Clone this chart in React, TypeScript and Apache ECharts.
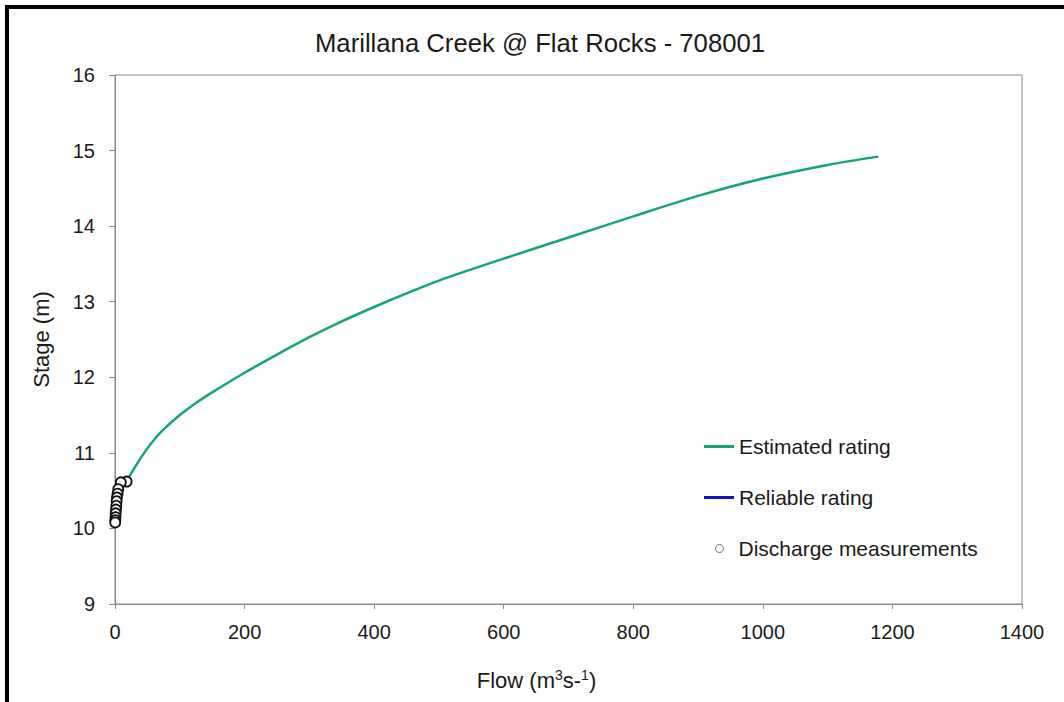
import React, { useEffect, useRef } from "react";
import * as echarts from "echarts";

const titleText = "Marillana Creek @ Flat Rocks - 708001";
const xTicks = [0, 200, 400, 600, 800, 1000, 1200, 1400];
const yTicks = [9, 10, 11, 12, 13, 14, 15, 16];

const ratingFlow = [12, 20, 30, 45, 60, 75, 100, 125, 150, 200, 250, 300, 350, 400, 450, 500, 600, 700, 800, 900, 1000, 1100, 1178];
const ratingStage = [10.57, 10.66, 10.8, 11.0, 11.17, 11.31, 11.5, 11.66, 11.8, 12.06, 12.3, 12.53, 12.74, 12.93, 13.11, 13.28, 13.57, 13.85, 14.13, 14.4, 14.63, 14.81, 14.92];

const reliableFlow: number[] = [];
const reliableStage: number[] = [];

const measFlow = [18, 9, 5, 4, 3, 2.5, 2, 1.5, 1, 0.8, 0.5, 0.3];
const measStage = [10.62, 10.61, 10.52, 10.46, 10.41, 10.36, 10.3, 10.25, 10.2, 10.15, 10.11, 10.08];

const FONT = "Liberation Sans";

export default function App() {
  const ref = useRef<HTMLDivElement>(null);
  useEffect(() => {
    if (!ref.current) return;
    const chart = echarts.init(ref.current, null, { renderer: "svg" });
    const zip = (a: number[], b: number[]) => a.map((v, i) => [v, b[i]]);
    const legendText = { fontFamily: FONT, fontSize: 21, color: "#1a1a1a", lineHeight: 20 };
    chart.setOption({
      animation: false,
      backgroundColor: "#ffffff",
      textStyle: { fontFamily: FONT, color: "#1a1a1a" },
      title: {
        text: titleText,
        left: 535,
        top: 25,
        textAlign: "center",
        textStyle: { fontFamily: FONT, fontSize: 25.7, fontWeight: "normal", color: "#1a1a1a" },
      },
      grid: {
        left: 115,
        right: 42,
        top: 75,
        bottom: 98,
        show: true,
        borderColor: "#8a8a8a",
        borderWidth: 1,
        backgroundColor: "transparent",
      },
      xAxis: {
        type: "value",
        min: xTicks[0],
        max: xTicks[xTicks.length - 1],
        interval: 200,
        name: "Flow (m{sup|3}s-{sup|1})",
        nameLocation: "middle",
        nameGap: 64,
        nameTextStyle: {
          fontFamily: FONT,
          fontSize: 22,
          color: "#1a1a1a",
          padding: [0, 64, 0, 0],
          rich: {
            sup: { fontFamily: FONT, fontSize: 14, color: "#1a1a1a", padding: [0, 0, 10, 0] },
          },
        },
        axisLine: { show: true, lineStyle: { color: "#8a8a8a", width: 1 } },
        axisTick: { show: true, length: 5, lineStyle: { color: "#8a8a8a" } },
        axisLabel: {
          margin: 18,
          fontFamily: FONT,
          fontSize: 20,
          color: "#1a1a1a",
          formatter: (v: number) => String(v),
        },
        splitLine: { show: false },
      },
      yAxis: {
        type: "value",
        min: yTicks[0],
        max: yTicks[yTicks.length - 1],
        interval: 1,
        name: "Stage (m)",
        nameLocation: "middle",
        nameGap: 63,
        nameRotate: 90,
        nameTextStyle: { fontFamily: FONT, fontSize: 22, color: "#1a1a1a" },
        axisLine: { show: true, lineStyle: { color: "#8a8a8a", width: 1 } },
        axisTick: { show: true, length: 6, lineStyle: { color: "#8a8a8a" } },
        axisLabel: {
          margin: 20,
          fontFamily: FONT,
          fontSize: 20,
          color: "#1a1a1a",
          formatter: (v: number) => String(v),
        },
        splitLine: { show: false },
      },
      legend: [
        {
          orient: "vertical",
          left: 704,
          top: 436,
          padding: 0,
          itemWidth: 30,
          itemHeight: 3,
          itemGap: 30,
          icon: "rect",
          textStyle: legendText,
          data: ["Estimated rating", "Reliable rating"],
        },
        {
          orient: "vertical",
          left: 715,
          top: 538,
          padding: 0,
          itemWidth: 28,
          itemHeight: 8,
          icon: "circle",
          textStyle: legendText,
          data: [
            {
              name: "Discharge measurements",
              itemStyle: { color: "#ffffff", borderColor: "#666666", borderWidth: 1 },
            },
          ],
        },
      ],
      series: [
        {
          name: "Estimated rating",
          type: "line",
          data: zip(ratingFlow, ratingStage),
          smooth: 0.3,
          symbol: "none",
          lineStyle: { color: "#14a76c", width: 2.5 },
          itemStyle: { color: "#14a76c" },
          z: 2,
        },
        {
          name: "Reliable rating",
          type: "line",
          data: zip(reliableFlow, reliableStage),
          symbol: "none",
          lineStyle: { color: "#1515c8", width: 2.5 },
          itemStyle: { color: "#1515c8" },
        },
        {
          name: "Discharge measurements",
          type: "scatter",
          data: zip(measFlow, measStage),
          symbol: "circle",
          symbolSize: 10,
          itemStyle: { color: "#ffffff", borderColor: "#111111", borderWidth: 1.8, opacity: 1 },
          z: 3,
        },
      ],
      graphic: [
        { type: "rect", shape: { x: 5, y: 5, width: 4, height: 697 }, style: { fill: "#000000" } },
        { type: "rect", shape: { x: 5, y: 5, width: 1059, height: 4 }, style: { fill: "#000000" } },
      ],
    });
    return () => chart.dispose();
  }, []);
  return (
    <div
      ref={ref}
      style={{ position: "absolute", left: 0, top: 0, width: 1064, height: 702 }}
    />
  );
}
